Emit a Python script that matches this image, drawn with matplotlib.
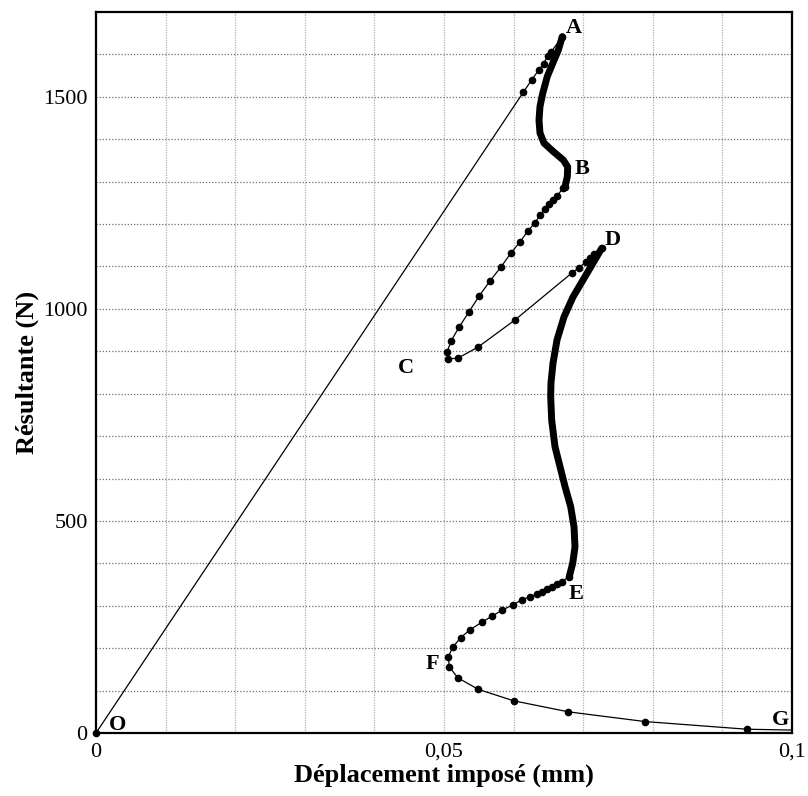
import numpy as np
import matplotlib.pyplot as plt

plt.rcParams['font.family'] = ['Liberation Serif', 'DejaVu Serif']

# loading branch O -> A (sparse increments)
oa_x = [0.0, 0.0614, 0.0626, 0.0636, 0.0643, 0.0649, 0.0654, 0.0670]
oa_y = [0, 1511, 1540, 1563, 1578, 1597, 1606, 1642]

# dense branch A -> B
ab_x = [0.0670, 0.06642, 0.06562, 0.06484, 0.06418, 0.06379, 0.06365, 0.06379,
        0.06437, 0.06570, 0.06714, 0.06777, 0.06772, 0.06739]
ab_y = [1642, 1610, 1579, 1548, 1508, 1477, 1445, 1415,
        1391, 1371, 1351, 1335, 1312, 1288]

# sparse branch B -> C -> D
bd_x = [0.06739, 0.06710, 0.06624, 0.06566, 0.06509, 0.06451, 0.06379, 0.06307,
        0.06207, 0.06092, 0.05963, 0.05819, 0.05661, 0.05503, 0.05359, 0.05216,
        0.05101, 0.05043, 0.05057, 0.05201, 0.05489, 0.06020, 0.06839, 0.06940,
        0.07040, 0.07098, 0.07155, 0.07266]
bd_y = [1288, 1285, 1266, 1257, 1247, 1236, 1221, 1203,
        1184, 1158, 1132, 1099, 1066, 1030, 993, 957,
        924, 898, 882, 884, 910, 974, 1085, 1097,
        1111, 1120, 1129, 1143]

# dense branch D -> E
de_x = [0.07266, 0.07141, 0.06997, 0.06853, 0.06724, 0.06624, 0.06566, 0.06537,
        0.06533, 0.06547, 0.06595, 0.06667, 0.06739, 0.06820, 0.06868, 0.06882,
        0.06849, 0.06800]
de_y = [1143, 1108, 1068, 1028, 981, 927, 872, 825,
        793, 738, 675, 628, 581, 534, 486, 439,
        400, 369]

# sparse branch E -> F -> G
eg_x = [0.06800, 0.06691, 0.06619, 0.06547, 0.06476, 0.06404, 0.06332, 0.06231,
        0.06116, 0.05987, 0.05838, 0.05694, 0.05542, 0.05378, 0.05240, 0.05125,
        0.05062, 0.05076, 0.05201, 0.05493, 0.06001, 0.06786, 0.07892, 0.09349]
eg_y = [369, 357, 351, 344, 339, 333, 327, 321,
        314, 302, 290, 276, 261, 244, 225, 202,
        180, 156, 130, 103, 76, 50, 27, 9]
g_end = (0.1, 7)

# point labels
labels = ['O', 'A', 'B', 'C', 'D', 'E', 'F', 'G']
label_x = [0.0031, 0.0686, 0.0698, 0.0446, 0.0742, 0.0690, 0.0483, 0.0983]
label_y = [20, 1662, 1330, 860, 1162, 327, 162, 30]

fig = plt.figure(figsize=(8.08, 7.96), dpi=100)
ax = fig.add_axes([0.1188, 0.0791, 0.8614, 0.9058])

ax.set_xlim(0, 0.1)
ax.set_ylim(0, 1700)

# grid every 0.01 mm and 100 N
for gx in np.arange(0.01, 0.1, 0.01):
    ax.axvline(gx, color='#b0b0b0', ls=(0, (1, 1)), lw=0.9, zorder=0)
for gy in np.arange(100, 1700, 100):
    ax.axhline(gy, color='#707070', ls=(0, (1, 1.5)), lw=0.9, zorder=0)

# thin connecting line through the whole path
all_x = oa_x + ab_x[1:] + bd_x[1:] + de_x[1:] + eg_x[1:] + [g_end[0]]
all_y = oa_y + ab_y[1:] + bd_y[1:] + de_y[1:] + eg_y[1:] + [g_end[1]]
ax.plot(all_x, all_y, color='black', lw=0.9, zorder=2, clip_on=False)

# sparse increments shown as dots
for bx, by in [(oa_x, oa_y), (bd_x, bd_y), (eg_x, eg_y)]:
    ax.plot(bx, by, 'o', color='black', ms=4.5, zorder=3, clip_on=False)

# dense increments merge into a thick curve
for bx, by in [(ab_x, ab_y), (de_x, de_y)]:
    ax.plot(bx, by, color='black', lw=5, solid_capstyle='round',
            solid_joinstyle='round', zorder=3)

for t, lx, ly in zip(labels, label_x, label_y):
    ax.text(lx, ly, t, fontsize=16, fontweight='bold', ha='center', va='center')

ax.set_xticks([0, 0.05, 0.1])
ax.set_xticklabels(['0', '0,05', '0,1'])
ax.set_yticks([0, 500, 1000, 1500])
ax.tick_params(length=0, labelsize=16, pad=6)
ax.tick_params(axis='x', pad=7)

for s in ax.spines.values():
    s.set_linewidth(1.6)

ax.set_xlabel('Déplacement imposé (mm)', fontsize=19, fontweight='bold', labelpad=1)
ax.set_ylabel('Résultante (N)', fontsize=19, fontweight='bold', labelpad=3)

fig.savefig('out.png', dpi=100)
